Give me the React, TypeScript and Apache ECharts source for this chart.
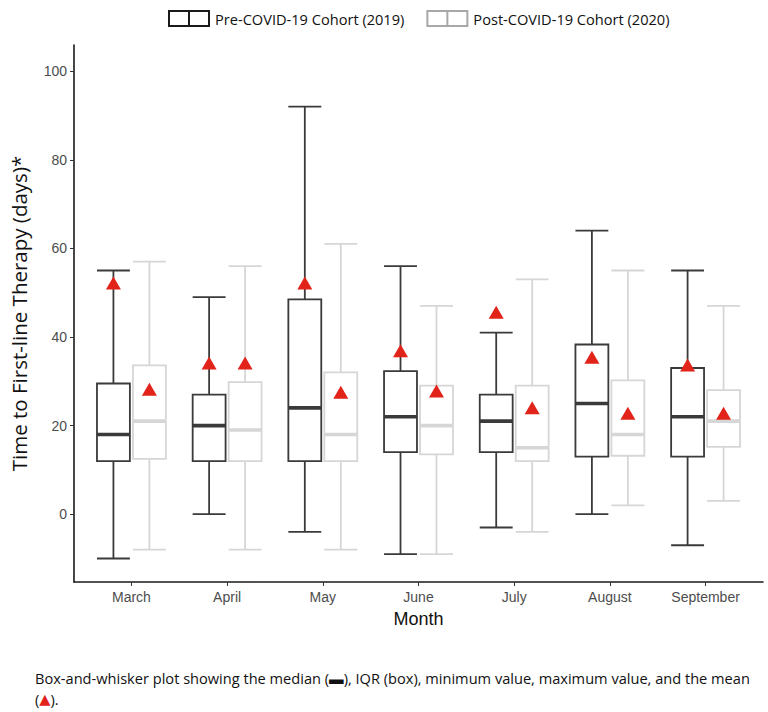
import React, { useEffect, useRef } from "react";
import * as echarts from "echarts";

const months = ["March", "April", "May", "June", "July", "August", "September"];
const yTicks = [0, 20, 40, 60, 80, 100];

// Pre-COVID-19 Cohort (2019)
const preMin = [-10, 0, -4, -9, -3, 0, -7];
const preQ1 = [12, 12, 12, 14, 14, 13, 13];
const preMedian = [18, 20, 24, 22, 21, 25, 22];
const preQ3 = [29.5, 27, 48.5, 32.3, 27, 38.3, 33];
const preMax = [55, 49, 92, 56, 41, 64, 55];
const preMean = [52.2, 34.1, 52.2, 36.9, 45.6, 35.4, 33.7];

// Post-COVID-19 Cohort (2020)
const postMin = [-8, -8, -8, -9, -4, 2, 3];
const postQ1 = [12.5, 12, 12, 13.5, 12, 13.2, 15.2];
const postMedian = [21, 19, 18, 20, 15, 18, 21];
const postQ3 = [33.6, 29.8, 32, 29, 29, 30.2, 28];
const postMax = [57, 56, 61, 47, 53, 55, 47];
const postMean = [28.2, 34.1, 27.5, 27.8, 24, 22.8, 22.8];

const PRE_NAME = "Pre-COVID-19 Cohort (2019)";
const POST_NAME = "Post-COVID-19 Cohort (2020)";
const PRE_COLOR = "#3a3a3a";
const POST_COLOR = "#d6d6d6";
const MEAN_COLOR = "#e2231a";
const DODGE = 0.188;
const HALF = 0.172;

const legendIcon = "path://M0,0H42V17H0Z M2,2V15H20V2Z M22,2V15H40V2Z";

function boxData(mn: number[], q1: number[], md: number[], q3: number[], mx: number[]) {
  return months.map((_, i) => [i + 1, mn[i], q1[i], md[i], q3[i], mx[i]]);
}

function makeRender(offset: number, color: string) {
  return (params: any, api: any) => {
    const x = api.value(0) + offset;
    const lo = api.value(1);
    const q1 = api.value(2);
    const md = api.value(3);
    const q3 = api.value(4);
    const hi = api.value(5);
    const tl = api.coord([x - HALF, q3]);
    const br = api.coord([x + HALF, q1]);
    const cTop = api.coord([x, hi]);
    const cQ3 = api.coord([x, q3]);
    const cQ1 = api.coord([x, q1]);
    const cLo = api.coord([x, lo]);
    const mL = api.coord([x - HALF, md]);
    const mR = api.coord([x + HALF, md]);
    const capL = api.coord([x - HALF, hi]);
    const capR = api.coord([x + HALF, hi]);
    const lcapL = api.coord([x - HALF, lo]);
    const lcapR = api.coord([x + HALF, lo]);
    const ls = { stroke: color, lineWidth: 1.8 };
    return {
      type: "group",
      children: [
        { type: "line", shape: { x1: cTop[0], y1: cTop[1], x2: cQ3[0], y2: cQ3[1] }, style: ls },
        { type: "line", shape: { x1: cQ1[0], y1: cQ1[1], x2: cLo[0], y2: cLo[1] }, style: ls },
        { type: "line", shape: { x1: capL[0], y1: capL[1], x2: capR[0], y2: capR[1] }, style: ls },
        { type: "line", shape: { x1: lcapL[0], y1: lcapL[1], x2: lcapR[0], y2: lcapR[1] }, style: ls },
        {
          type: "rect",
          shape: { x: tl[0], y: tl[1], width: br[0] - tl[0], height: br[1] - tl[1] },
          style: { fill: "#fff", stroke: color, lineWidth: 1.8 },
        },
        { type: "line", shape: { x1: mL[0], y1: mL[1], x2: mR[0], y2: mR[1] }, style: { stroke: color, lineWidth: 3.6 } },
      ],
    };
  };
}

export default function App() {
  const ref = useRef<HTMLDivElement>(null);
  useEffect(() => {
    if (!ref.current) return;
    const chart = echarts.init(ref.current, null, { renderer: "svg" });
    const option: any = {
      animation: false,
      backgroundColor: "#ffffff",
      textStyle: { fontFamily: "Liberation Sans" },
      legend: {
        left: 163,
        top: 5,
        itemWidth: 42,
        itemHeight: 17,
        itemGap: 22,
        textStyle: { fontFamily: "Open Sans", fontSize: 14.6, color: "#111" },
        data: [
          { name: PRE_NAME, icon: legendIcon, itemStyle: { color: "#1a1a1a", borderWidth: 0 } },
          { name: POST_NAME, icon: legendIcon, itemStyle: { color: "#a8a8a8", borderWidth: 0 } },
        ],
      },
      grid: { left: 74, right: 5, top: 45, bottom: 130, containLabel: false },
      xAxis: {
        type: "value",
        min: 0.4,
        max: 7.6,
        name: "Month",
        nameLocation: "middle",
        nameGap: 28,
        nameTextStyle: { fontFamily: "Liberation Sans", fontSize: 18, color: "#111" },
        axisLine: { show: true, onZero: false, lineStyle: { color: "#1a1a1a", width: 1.6 } },
        axisTick: { show: true, length: 4, lineStyle: { color: "#333" }, customValues: [1, 2, 3, 4, 5, 6, 7] },
        axisLabel: {
          customValues: [1, 2, 3, 4, 5, 6, 7],
          formatter: (v: number) => months[Math.round(v) - 1] ?? "",
          color: "#4d4d4d",
          fontFamily: "Liberation Sans",
          fontSize: 14,
          margin: 8,
        },
        splitLine: { show: false },
      },
      yAxis: {
        type: "value",
        min: -15.3,
        max: 105.9,
        name: "Time to First-line Therapy (days)*",
        nameLocation: "middle",
        nameGap: 45,
        nameTextStyle: { fontFamily: "Open Sans", fontSize: 20.5, color: "#111" },
        axisLine: { show: true, onZero: false, lineStyle: { color: "#1a1a1a", width: 1.6 } },
        axisTick: { show: true, length: 4, lineStyle: { color: "#333" }, customValues: yTicks },
        axisLabel: { customValues: yTicks, color: "#4d4d4d", fontFamily: "Liberation Sans", fontSize: 14, margin: 7 },
        splitLine: { show: false },
      },
      series: [
        {
          name: PRE_NAME,
          type: "custom",
          renderItem: makeRender(-DODGE, PRE_COLOR),
          encode: { x: 0, y: [1, 2, 3, 4, 5] },
          itemStyle: { color: "#1a1a1a" },
          data: boxData(preMin, preQ1, preMedian, preQ3, preMax),
          z: 2,
        },
        {
          name: POST_NAME,
          type: "custom",
          renderItem: makeRender(DODGE, POST_COLOR),
          encode: { x: 0, y: [1, 2, 3, 4, 5] },
          itemStyle: { color: "#a8a8a8" },
          data: boxData(postMin, postQ1, postMedian, postQ3, postMax),
          z: 2,
        },
        {
          name: "Mean 2019",
          type: "scatter",
          symbol: "triangle",
          symbolSize: [15, 13],
          itemStyle: { color: MEAN_COLOR, opacity: 1 },
          data: preMean.map((v, i) => [i + 1 - DODGE, v]),
          z: 5,
        },
        {
          name: "Mean 2020",
          type: "scatter",
          symbol: "triangle",
          symbolSize: [15, 13],
          itemStyle: { color: MEAN_COLOR, opacity: 1 },
          data: postMean.map((v, i) => [i + 1 + DODGE, v]),
          z: 5,
        },
      ],
      graphic: [
        {
          type: "text",
          left: 35,
          top: 670,
          style: {
            text: "Box-and-whisker plot showing the median (▬), IQR (box), minimum value, maximum value, and the mean",
            font: "14.6px 'Open Sans'",
            fill: "#111",
          },
        },
        {
          type: "text",
          left: 35,
          top: 691,
          style: {
            text: "({r|▲}).",
            font: "14.6px 'Open Sans'",
            fill: "#111",
            rich: { r: { fill: MEAN_COLOR, font: "14.6px 'DejaVu Sans'" } },
          },
        },
      ],
    };
    chart.setOption(option);
    return () => chart.dispose();
  }, []);
  return <div ref={ref} style={{ width: 768, height: 712, position: "absolute", left: 0, top: 0 }} />;
}
